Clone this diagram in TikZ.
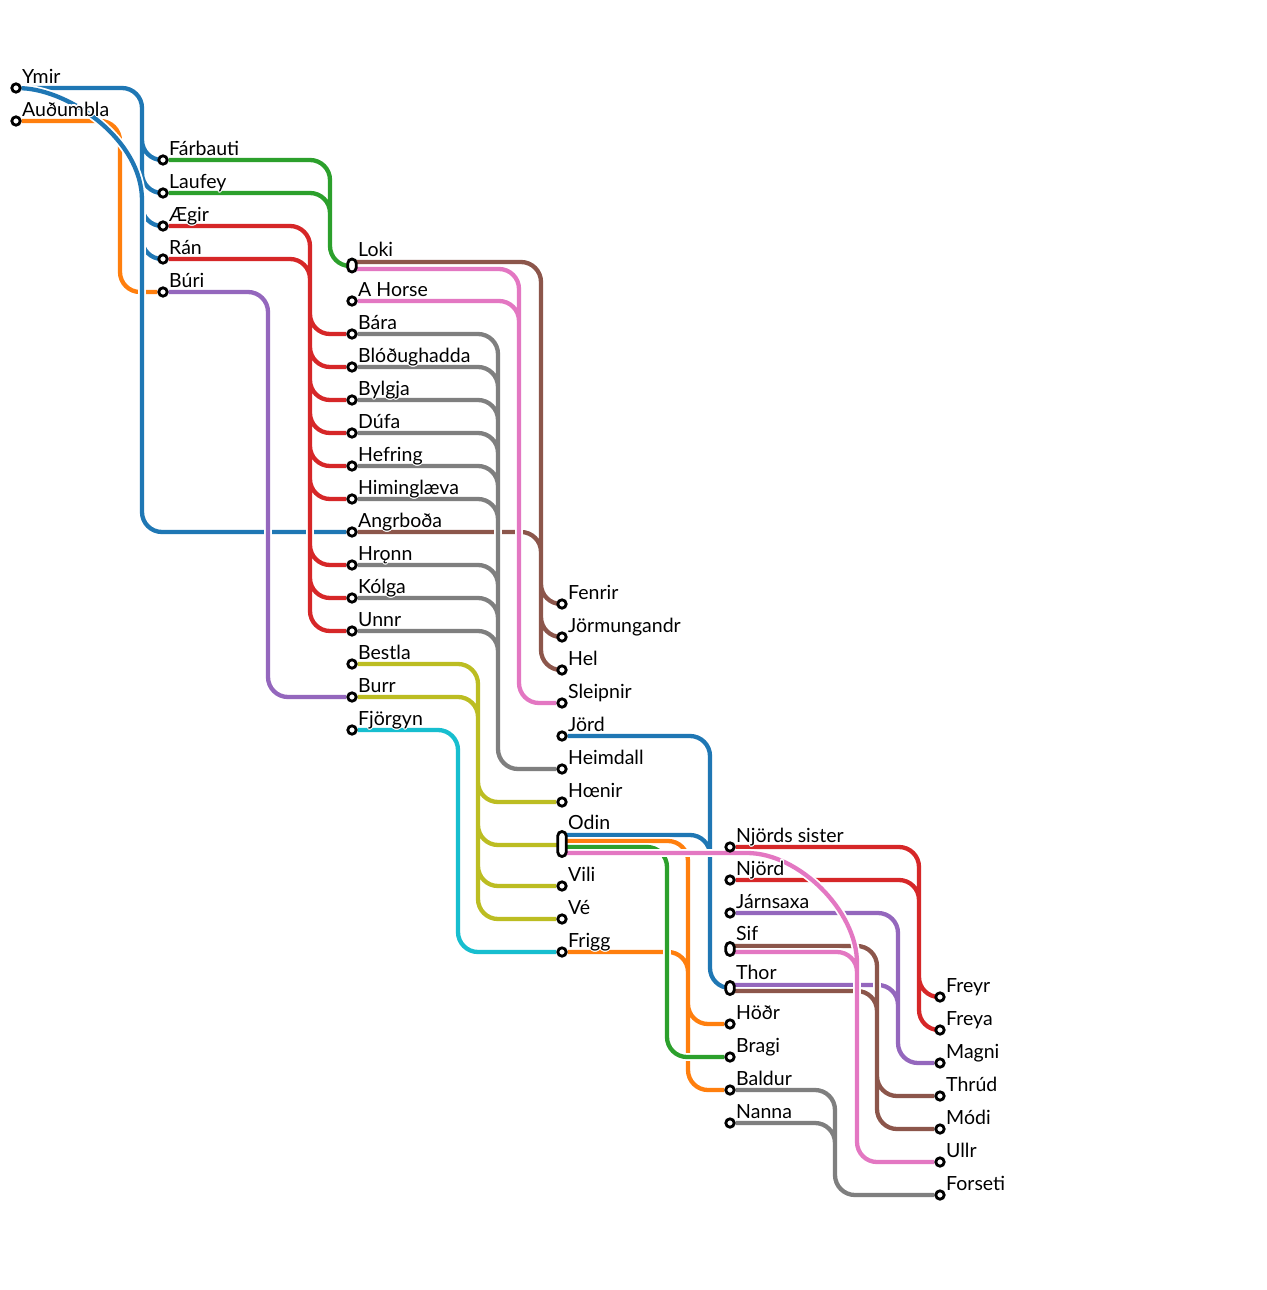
\documentclass[tikz,border=0pt]{standalone}
\usepackage{fontspec}
\setmainfont{Lato}
\usepackage{contour}
\contourlength{1.1pt}
\contournumber{16}
\usetikzlibrary{calc}
\pgfdeclarelayer{fg}
\pgfsetlayers{main,fg}
\definecolor{tblue}{HTML}{1F77B4}
\definecolor{torange}{HTML}{FF7F0E}
\definecolor{tgreen}{HTML}{2CA02C}
\definecolor{tred}{HTML}{D62728}
\definecolor{tpurple}{HTML}{9467BD}
\definecolor{tbrown}{HTML}{8C564B}
\definecolor{tpink}{HTML}{E377C2}
\definecolor{tgray}{HTML}{7F7F7F}
\definecolor{tolive}{HTML}{BCBD22}
\definecolor{tcyan}{HTML}{17BECF}
\tikzset{
  ln/.style={draw=#1, line width=4.3pt, rounded corners=20pt, preaction={draw=white, line width=7.8pt}},
  stn/.style={circle, draw=black, fill=white, line width=2.8pt, inner sep=0pt, minimum size=8.4pt},
  pill/.style={rectangle, rounded corners=4.2pt, draw=black, fill=white, line width=2.8pt, inner sep=0pt, minimum width=8.4pt},
  lbl/.style={anchor=base west, inner sep=0pt, font=\fontsize{19.5}{21}\selectfont},
}
\newcommand\stlabel[3]{\node[lbl] (#1-t) at ([shift={(6,#2)}]#1.center) {\contour{white}{#3}};}
\begin{document}
\begin{tikzpicture}[x=1pt,y=-1pt]
\useasboundingbox (0,0) rectangle (1266,1290);
\fill[white] (0,0) rectangle (1266,1290);
% trunk x positions
\coordinate (xA) at (120,0);
\coordinate (xY) at (142,0);
\coordinate (xR) at (310,0);
\coordinate (xG) at (330,0);
\coordinate (xPu) at (268,0);
\coordinate (xGy) at (498,0);
\coordinate (xPk) at (519,0);
\coordinate (xBr) at (541,0);
\coordinate (xOl) at (478,0);
\coordinate (xCy) at (458,0);
\coordinate (xBl) at (710,0);
\coordinate (xOr) at (688,0);
\coordinate (xGr) at (667,0);
\coordinate (xRd) at (919,0);
\coordinate (xMg) at (898,0);
\coordinate (xBt) at (877,0);
\coordinate (xUl) at (857,0);
\coordinate (xFo) at (835,0);
% ports of pills
\coordinate (lokiB) at (352,262);
\coordinate (lokiP) at (352,269);
\coordinate (lokiIn) at (352,266);
\coordinate (odinB) at (562,835);
\coordinate (odinO) at (562,841);
\coordinate (odinG) at (562,847);
\coordinate (odinP) at (562,853);
\coordinate (odinIn) at (562,845);
\coordinate (sifB) at (730,946);
\coordinate (sifP) at (730,952);
\coordinate (thorU) at (730,985);
\coordinate (thorB) at (730,991);
\coordinate (thorIn) at (730,988);
\begin{pgfonlayer}{fg}
\node[stn] (ymir) at (16,88) {};
\node[stn] (audumbla) at (16,121) {};
\node[stn] (farbauti) at (163,160) {};
\node[stn] (laufey) at (163,193) {};
\node[stn] (aegir) at (163,226) {};
\node[stn] (ran) at (163,259) {};
\node[stn] (buri) at (163,292) {};
\node[pill, minimum height=13pt] (loki) at (352,265.5) {};
\node[stn] (ahorse) at (352,301) {};
\node[stn] (bara) at (352,334) {};
\node[stn] (blod) at (352,367) {};
\node[stn] (bylgja) at (352,400) {};
\node[stn] (dufa) at (352,433) {};
\node[stn] (hefring) at (352,466) {};
\node[stn] (himing) at (352,499) {};
\node[stn] (angrboda) at (352,532) {};
\node[stn] (hronn) at (352,565) {};
\node[stn] (kolga) at (352,598) {};
\node[stn] (unnr) at (352,631) {};
\node[stn] (bestla) at (352,664) {};
\node[stn] (burr) at (352,697) {};
\node[stn] (fjorgyn) at (352,730) {};
\node[stn] (fenrir) at (562,604) {};
\node[stn] (jorm) at (562,637) {};
\node[stn] (hel) at (562,670) {};
\node[stn] (sleipnir) at (562,703) {};
\node[stn] (jord) at (562,736) {};
\node[stn] (heimdall) at (562,769) {};
\node[stn] (hoenir) at (562,802) {};
\node[pill, minimum height=25pt] (odin) at (562,844) {};
\node[stn] (vili) at (562,886) {};
\node[stn] (ve) at (562,919) {};
\node[stn] (frigg) at (562,952) {};
\node[stn] (njs) at (730,847) {};
\node[stn] (njord) at (730,880) {};
\node[stn] (jarnsaxa) at (730,913) {};
\node[pill, minimum height=13pt] (sif) at (730,949) {};
\node[pill, minimum height=13pt] (thor) at (730,988) {};
\node[stn] (hodr) at (730,1024) {};
\node[stn] (bragi) at (730,1057) {};
\node[stn] (baldur) at (730,1090) {};
\node[stn] (nanna) at (730,1123) {};
\node[stn] (freyr) at (940,997) {};
\node[stn] (freya) at (940,1030) {};
\node[stn] (magni) at (940,1063) {};
\node[stn] (thrud) at (940,1096) {};
\node[stn] (modi) at (940,1129) {};
\node[stn] (ullr) at (940,1162) {};
\node[stn] (forseti) at (940,1195) {};
% labels
\stlabel{ymir}{-5}{Ymir}
\stlabel{audumbla}{-5}{Auðumbla}
\stlabel{farbauti}{-5}{Fárbauti}
\stlabel{laufey}{-5}{Laufey}
\stlabel{aegir}{-5}{Ægir}
\stlabel{ran}{-5}{Rán}
\stlabel{buri}{-5}{Búri}
\stlabel{loki}{-9.5}{Loki}
\stlabel{ahorse}{-5}{A Horse}
\stlabel{bara}{-5}{Bára}
\stlabel{blod}{-5}{Blóðughadda}
\stlabel{bylgja}{-5}{Bylgja}
\stlabel{dufa}{-5}{Dúfa}
\stlabel{hefring}{-5}{Hefring}
\stlabel{himing}{-5}{Himinglæva}
\stlabel{angrboda}{-5}{Angrboða}
\stlabel{hronn}{-5}{Hrǫnn}
\stlabel{kolga}{-5}{Kólga}
\stlabel{unnr}{-5}{Unnr}
\stlabel{bestla}{-5}{Bestla}
\stlabel{burr}{-5}{Burr}
\stlabel{fjorgyn}{-5}{Fjörgyn}
\stlabel{fenrir}{-5}{Fenrir}
\stlabel{jorm}{-5}{Jörmungandr}
\stlabel{hel}{-5}{Hel}
\stlabel{sleipnir}{-5}{Sleipnir}
\stlabel{jord}{-5}{Jörd}
\stlabel{heimdall}{-5}{Heimdall}
\stlabel{hoenir}{-5}{Hœnir}
\stlabel{odin}{-15}{Odin}
\stlabel{vili}{-5}{Vili}
\stlabel{ve}{-5}{Vé}
\stlabel{frigg}{-5}{Frigg}
\stlabel{njs}{-5}{Njörds sister}
\stlabel{njord}{-5}{Njörd}
\stlabel{jarnsaxa}{-5}{Járnsaxa}
\stlabel{sif}{-9}{Sif}
\stlabel{thor}{-9}{Thor}
\stlabel{hodr}{-5}{Höðr}
\stlabel{bragi}{-5}{Bragi}
\stlabel{baldur}{-5}{Baldur}
\stlabel{nanna}{-5}{Nanna}
\stlabel{freyr}{-5}{Freyr}
\stlabel{freya}{-5}{Freya}
\stlabel{magni}{-5}{Magni}
\stlabel{thrud}{-5}{Thrúd}
\stlabel{modi}{-5}{Módi}
\stlabel{ullr}{-5}{Ullr}
\stlabel{forseti}{-5}{Forseti}
\end{pgfonlayer}
% connectors
\draw[ln=torange] (audumbla) -- (audumbla -| xA) -- (buri -| xA) -- (buri);
\draw[ln=tblue] foreach \c in {farbauti,laufey,aegir,ran} {(ymir) -- (ymir -| xY) -- (\c -| xY) -- (\c)};
\draw[ln=tblue] (ymir) .. controls (70,90) and (142,140) .. (142,220) -- (angrboda -| xY) -- (angrboda);
\draw[ln=tgreen] foreach \p in {farbauti,laufey} {(\p) -- (\p -| xG) -- (lokiIn -| xG) -- (lokiIn)};
\draw[ln=tred] foreach \p in {aegir,ran} {foreach \c in {bara,blod,bylgja,dufa,hefring,himing,hronn,kolga,unnr} {(\p) -- (\p -| xR) -- (\c -| xR) -- (\c)}};
\draw[ln=tpurple] (buri) -- (buri -| xPu) -- (burr -| xPu) -- (burr);
\draw[ln=tbrown] foreach \p in {lokiB,angrboda} {foreach \c in {fenrir,jorm,hel} {(\p) -- (\p -| xBr) -- (\c -| xBr) -- (\c)}};
\draw[ln=tgray] foreach \p in {bara,blod,bylgja,dufa,hefring,himing,hronn,kolga,unnr} {(\p) -- (\p -| xGy) -- (heimdall -| xGy) -- (heimdall)};
\draw[ln=tpink] foreach \p in {lokiP,ahorse} {(\p) -- (\p -| xPk) -- (sleipnir -| xPk) -- (sleipnir)};
\draw[ln=tolive] foreach \p in {bestla,burr} {foreach \c in {hoenir,odinIn,vili,ve} {(\p) -- (\p -| xOl) -- (\c -| xOl) -- (\c)}};
\draw[ln=tcyan] (fjorgyn) -- (fjorgyn -| xCy) -- (frigg -| xCy) -- (frigg);
\draw[ln=tblue] foreach \p in {jord,odinB} {(\p) -- (\p -| xBl) -- (thorIn -| xBl) -- (thorIn)};
\draw[ln=torange] foreach \p in {odinO,frigg} {foreach \c in {hodr,baldur} {(\p) -- (\p -| xOr) -- (\c -| xOr) -- (\c)}};
\draw[ln=tgreen] (odinG) -- (odinG -| xGr) -- (bragi -| xGr) -- (bragi);
\draw[ln=tred] foreach \p in {njs,njord} {foreach \c in {freyr,freya} {(\p) -- (\p -| xRd) -- (\c -| xRd) -- (\c)}};
\draw[ln=tpurple] foreach \p in {jarnsaxa,thorU} {(\p) -- (\p -| xMg) -- (magni -| xMg) -- (magni)};
\draw[ln=tbrown] foreach \p in {sifB,thorB} {foreach \c in {thrud,modi} {(\p) -- (\p -| xBt) -- (\c -| xBt) -- (\c)}};
\draw[ln=tpink] (sifP) -- (sifP -| xUl) -- (ullr -| xUl) -- (ullr)
  (odinP) -- (727,853) .. controls (799,853) and (857,911) .. (857,983) -- (ullr -| xUl) -- (ullr);
\draw[ln=tgray] foreach \p in {baldur,nanna} {(\p) -- (\p -| xFo) -- (forseti -| xFo) -- (forseti)};
\end{tikzpicture}
\end{document}
